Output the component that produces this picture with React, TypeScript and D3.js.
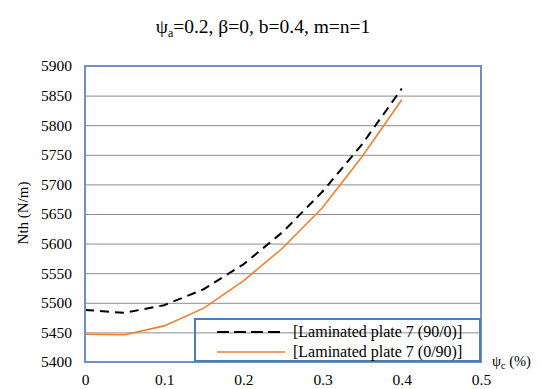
import { useEffect, useRef } from 'react';
import * as d3 from 'd3';

const xValues = [0, 0.05, 0.1, 0.15, 0.2, 0.25, 0.3, 0.35, 0.4];
const plate90_0 = [5488, 5483, 5496, 5523, 5565, 5620, 5688, 5768, 5862];
const plate0_90 = [5447, 5446, 5461, 5491, 5537, 5593, 5661, 5747, 5843];
const yTicks = [5400, 5450, 5500, 5550, 5600, 5650, 5700, 5750, 5800, 5850, 5900];
const xTicks = [0, 0.1, 0.2, 0.3, 0.4, 0.5];
const seriesNames = ['[Laminated plate 7 (90/0)]', '[Laminated plate 7 (0/90)]'];

export default function App() {
    const svgRef = useRef<SVGSVGElement>(null);
    const width = 540;
    const height = 389;

    useEffect(() => {
        if (!svgRef.current) return;
        const svg = d3.select(svgRef.current);
        svg.selectAll("*").remove();

        const font = "Times New Roman, Liberation Serif, DejaVu Serif, serif";
        const margin = { top: 66, right: 59, bottom: 27, left: 85 };
        const w = width - margin.left - margin.right;
        const h = height - margin.top - margin.bottom;

        const x = d3.scaleLinear().domain([0, 0.5]).range([0, w]);
        const y = d3.scaleLinear().domain([5400, 5900]).range([h, 0]);

        const g = svg.append("g").attr("transform", `translate(${margin.left},${margin.top})`);

        // grid
        g.append("g")
            .call(d3.axisLeft(y).tickValues(yTicks).tickSize(-w).tickFormat(() => ""))
            .call(s => s.select(".domain").remove())
            .selectAll("line")
            .attr("stroke", "#8c8c8c")
            .attr("stroke-width", 1);

        // y labels
        g.append("g")
            .call(d3.axisLeft(y).tickValues(yTicks).tickSize(0).tickPadding(13).tickFormat(d3.format("d")))
            .call(s => s.select(".domain").remove())
            .selectAll("text")
            .style("font-family", font)
            .style("font-size", "15.5px")
            .attr("fill", "#000");

        // x labels
        g.append("g")
            .attr("transform", `translate(0,${h})`)
            .call(d3.axisBottom(x).tickValues(xTicks).tickSize(0).tickPadding(12).tickFormat(d => String(+d)))
            .call(s => s.select(".domain").remove())
            .selectAll("text")
            .style("font-family", font)
            .style("font-size", "15.5px")
            .attr("fill", "#000");

        const line = d3.line<number>()
            .x((_, i) => x(xValues[i]))
            .y(d => y(d));

        g.append("path")
            .datum(plate90_0)
            .attr("fill", "none")
            .attr("stroke", "#000")
            .attr("stroke-width", 2)
            .attr("stroke-dasharray", "9,6")
            .attr("d", line);

        g.append("path")
            .datum(plate0_90)
            .attr("fill", "none")
            .attr("stroke", "#f08030")
            .attr("stroke-width", 1.6)
            .attr("d", line);

        // plot frame
        g.append("rect")
            .attr("x", 0).attr("y", 0).attr("width", w).attr("height", h)
            .attr("fill", "none")
            .attr("stroke", "#7090bd")
            .attr("stroke-width", 2);

        // legend
        const lg = svg.append("g").attr("transform", `translate(195,319)`);
        lg.append("rect")
            .attr("x", 0).attr("y", 0).attr("width", 285).attr("height", 42)
            .attr("fill", "none")
            .attr("stroke", "#4a7ebb")
            .attr("stroke-width", 2);
        const rows = [
            { name: seriesNames[0], stroke: "#000", dash: "12,5", sw: 2 },
            { name: seriesNames[1], stroke: "#f08030", dash: null, sw: 1.6 },
        ];
        rows.forEach((r, i) => {
            const yy = 13 + i * 20;
            lg.append("line")
                .attr("x1", 22).attr("x2", 90).attr("y1", yy).attr("y2", yy)
                .attr("stroke", r.stroke)
                .attr("stroke-width", r.sw)
                .attr("stroke-dasharray", r.dash);
            lg.append("text")
                .attr("x", 98).attr("y", yy + 5)
                .style("font-family", font)
                .style("font-size", "16px")
                .text(r.name);
        });

        // titles
        const title = svg.append("text")
            .attr("x", 263).attr("y", 33)
            .attr("text-anchor", "middle")
            .style("font-family", font)
            .style("font-size", "19.5px");
        title.append("tspan").text("ψ");
        title.append("tspan").style("font-size", "12px").attr("dy", 4).text("a");
        title.append("tspan").attr("dy", -4).text("=0.2, β=0, b=0.4, m=n=1");

        const xt = svg.append("text")
            .attr("x", 492).attr("y", 366)
            .style("font-family", font)
            .style("font-size", "14.5px");
        xt.append("tspan").text("ψ");
        xt.append("tspan").style("font-size", "10px").attr("dy", 3).text("c");
        xt.append("tspan").attr("dy", -3).text(" (%)");

        svg.append("text")
            .attr("transform", "translate(28,213) rotate(-90)")
            .attr("text-anchor", "middle")
            .style("font-family", font)
            .style("font-size", "15px")
            .text("Nth (N/m)");
    }, []);

    return (
        <svg ref={svgRef} width={width} height={height}
            style={{ position: 'absolute', left: 0, top: 0, background: '#fff' }} />
    );
}
